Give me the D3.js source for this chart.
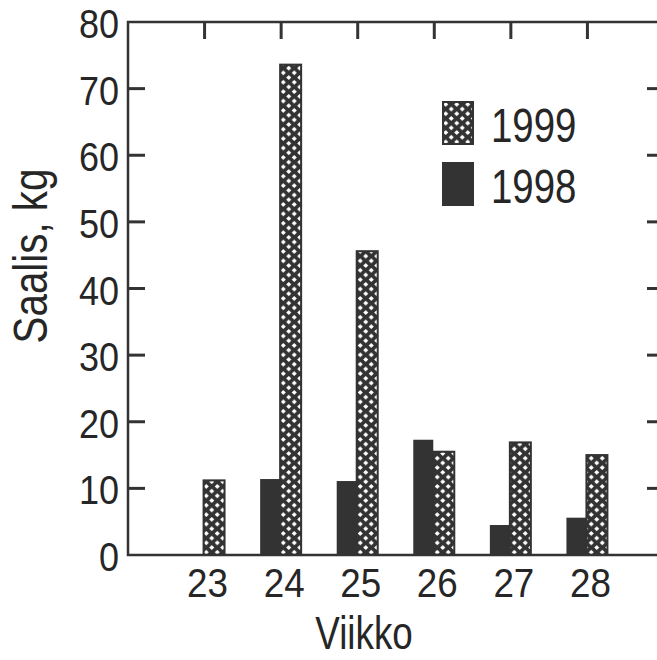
<!DOCTYPE html>
<html>
<head>
<meta charset="utf-8">
<script src="https://cdn.jsdelivr.net/npm/d3@7"></script>
<style>
  body { margin: 0; background: #fff; }
  text { font-family: "Liberation Sans", Arimo, sans-serif; fill: #262626; }
</style>
</head>
<body>
<div id="chart"></div>
<script>
// weeks and catch (kg) per year
var weeks = [23, 24, 25, 26, 27, 28];
var catch1998 = [0, 11.4, 11.1, 17.3, 4.5, 5.6];
var catch1999 = [11.2, 73.6, 45.6, 15.5, 16.9, 15.0];
var yTicks = [0, 10, 20, 30, 40, 50, 60, 70, 80];
var seriesNames = ["1999", "1998"];

(function() {
    var width = 657,
        height = 660,
        dark = "#333";

    var svg = d3.select("#chart").append("svg")
        .attr("width", width).attr("height", height);

    // crosshatch fill for 1999
    var pat = svg.append("defs").append("pattern")
        .attr("id", "hatch")
        .attr("patternUnits", "userSpaceOnUse")
        .attr("width", 11).attr("height", 9.4);
    pat.append("rect").attr("width", 11).attr("height", 9.4).attr("fill", dark);
    [[2.75, 2.35], [8.25, 7.05]].forEach(function(p) {
        pat.append("path")
            .attr("d", "M" + (p[0] - 2.6) + "," + p[1] + "L" + p[0] + "," + (p[1] - 2.3) +
                       "L" + (p[0] + 2.6) + "," + p[1] + "L" + p[0] + "," + (p[1] + 2.3) + "Z")
            .attr("fill", "#fff");
    });

    var x = d3.scaleLinear().domain([22, 29]).range([128, 664]),
        y = d3.scaleLinear().domain([0, 80]).range([555, 22]);

    // narrow text: the original font is condensed
    function squeeze(sx, px, py) {
        return "translate(" + px + "," + py + ") scale(" + sx + ",1)";
    }

    var g = svg.append("g");

    // bars 1998 (solid, left of week centre)
    g.selectAll(".b98").data(weeks).enter().append("rect")
        .attr("class", "b98")
        .attr("x", function(d) { return x(d) - 21; })
        .attr("width", 20)
        .attr("y", function(d, i) { return y(catch1998[i]); })
        .attr("height", function(d, i) { return y(0) - y(catch1998[i]); })
        .attr("fill", dark);

    // bars 1999 (hatched, right of week centre)
    g.selectAll(".b99").data(weeks).enter().append("rect")
        .attr("class", "b99")
        .attr("x", function(d) { return x(d) - 1; })
        .attr("width", 21)
        .attr("y", function(d, i) { return y(catch1999[i]); })
        .attr("height", function(d, i) { return y(0) - y(catch1999[i]); })
        .attr("fill", "url(#hatch)")
        .attr("stroke", dark).attr("stroke-width", 2);

    // frame
    var x0 = x.range()[0], x1 = x.range()[1];
    g.append("path")
        .attr("d", "M" + x0 + "," + y(80) + "H" + x1 + "V" + y(0) + "H" + x0 + "Z")
        .attr("fill", "none").attr("stroke", dark).attr("stroke-width", 2.5);

    // inward ticks, left and right
    var inner = yTicks.filter(function(d) { return d > 0 && d < 80; });
    g.selectAll(".tl").data(inner).enter().append("line")
        .attr("x1", x0).attr("x2", x0 + 17)
        .attr("y1", function(d) { return y(d); }).attr("y2", function(d) { return y(d); })
        .attr("stroke", dark).attr("stroke-width", 3);
    g.selectAll(".tr").data(inner).enter().append("line")
        .attr("x1", x1).attr("x2", x1 - 17)
        .attr("y1", function(d) { return y(d); }).attr("y2", function(d) { return y(d); })
        .attr("stroke", dark).attr("stroke-width", 3);
    // top ticks
    g.selectAll(".tt").data(weeks).enter().append("line")
        .attr("x1", function(d) { return x(d); }).attr("x2", function(d) { return x(d); })
        .attr("y1", y(80)).attr("y2", y(80) + 17)
        .attr("stroke", dark).attr("stroke-width", 3);

    // y labels
    g.selectAll(".yl").data(yTicks).enter().append("text")
        .attr("transform", function(d) { return squeeze(0.9, 119, y(d) + 16); })
        .attr("text-anchor", "end")
        .attr("font-size", 40)
        .text(function(d) { return d; });

    // x labels
    g.selectAll(".xl").data(weeks).enter().append("text")
        .attr("transform", function(d) { return squeeze(0.92, x(d) + 3, 597); })
        .attr("text-anchor", "middle")
        .attr("font-size", 40)
        .text(function(d) { return d; });

    svg.append("text")
        .attr("transform", squeeze(0.8, 364, 649))
        .attr("text-anchor", "middle")
        .attr("font-size", 46)
        .text("Viikko");

    svg.append("text")
        .attr("transform", "translate(47,256) rotate(-90) scale(0.84,1)")
        .attr("text-anchor", "middle")
        .attr("font-size", 48)
        .text("Saalis, kg");

    // legend
    var legend = svg.append("g").selectAll("g").data(seriesNames).enter().append("g")
        .attr("transform", function(d, i) { return "translate(443," + (102 + i * 61) + ")"; });
    legend.append("rect")
        .attr("width", 30).attr("height", 42)
        .attr("fill", function(d) { return d === "1999" ? "url(#hatch)" : dark; })
        .attr("stroke", dark).attr("stroke-width", 2);
    legend.append("text")
        .attr("transform", squeeze(0.8, 48, 40))
        .attr("font-size", 48)
        .text(function(d) { return d; });
})();
</script>
</body>
</html>
